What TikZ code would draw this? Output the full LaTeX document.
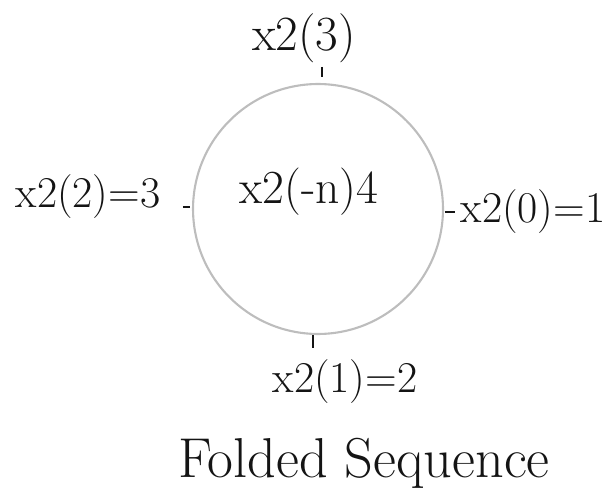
\documentclass[tikz,border=0pt]{standalone}
\usetikzlibrary{calc,positioning}
\definecolor{ink}{HTML}{141414}
\definecolor{ringgray}{HTML}{BDBDBD}

\begin{document}
\begin{tikzpicture}[x=0.02cm,y=-0.02cm,font=\fontsize{25}{29}\selectfont,
  lbl/.style={text=ink,inner sep=1pt},
  tickmark/.style={draw=ink,line width=1.4pt}]
\useasboundingbox (0,0) rectangle (608,496);
\node[circle,draw=ringgray,line width=1.2pt,minimum size=5cm,inner sep=0pt]
  (ring) at (318,209) {};
\node[lbl,font=\fontsize{27}{31}\selectfont] (inner) at (309,192) {x2(-n)4};
\node[lbl,font=\fontsize{28}{32}\selectfont] (top) at (304,38) {x2(3)};
\node[lbl] (left) at (88,197) {x2(2)=3};
\node[lbl] (right) at (533,212) {x2(0)=1};
\node[lbl] (bottom) at (345,382) {x2(1)=2};
\node[lbl,font=\fontsize{32}{36}\selectfont] (title) at (364,463) {Folded Sequence};
% ticks round the ring
\draw[tickmark] ($(ring.north)+(4,-16)$) -- ++(0,10);
\draw[tickmark] ($(ring.west)+(-9,-2)$) -- ++(7,0);
\draw[tickmark] ($(ring.east)+(1,3)$) -- ++(10,0);
\draw[tickmark] ($(ring.south)+(-5,0)$) -- ++(0,13);
\end{tikzpicture}
\end{document}
